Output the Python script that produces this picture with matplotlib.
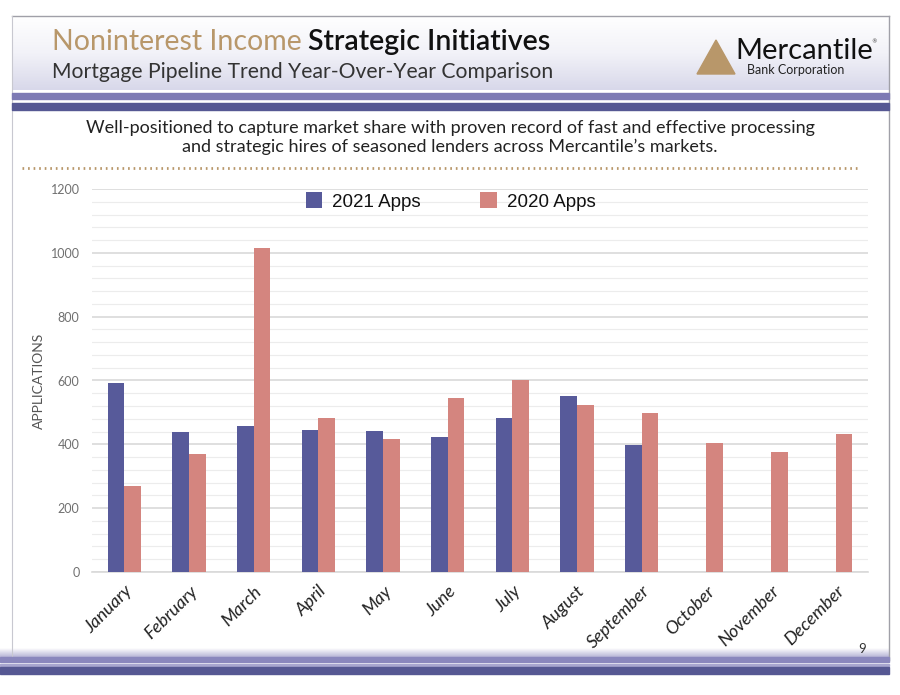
import numpy as np
import matplotlib
matplotlib.use("Agg")
import matplotlib.pyplot as plt
from matplotlib.patches import Rectangle, Polygon
from matplotlib.colors import LinearSegmentedColormap

months = ["January", "February", "March", "April", "May", "June", "July",
          "August", "September", "October", "November", "December"]
apps_2021 = [592, 440, 458, 446, 441, 424, 483, 550, 397, None, None, None]
apps_2020 = [270, 370, 1015, 483, 418, 546, 603, 524, 498, 405, 376, 433]
series_names = ["2021 Apps", "2020 Apps"]
yticks = [0, 200, 400, 600, 800, 1000, 1200]

W, H = 900, 695
fig = plt.figure(figsize=(9, 6.95), dpi=100)
fig.patch.set_facecolor("white")

def fx(px):
    return px / W

def fy(py):
    return 1 - py / H

bg = fig.add_axes([0, 0, 1, 1], zorder=-5)
bg.set_xlim(0, W)
bg.set_ylim(H, 0)
bg.axis("off")

grad = np.linspace(0, 1, 100).reshape(-1, 1)
cmap = LinearSegmentedColormap.from_list("hdr", ["#ffffff", "#f2f2f8", "#d8d8ea"])
bg.imshow(grad, extent=[12, 889, 90, 16], cmap=cmap, aspect="auto", zorder=0)
bg.plot([12, 889], [16, 16], color="#a0a0a8", lw=1)
bg.plot([12, 12], [16, 660], color="#c8c8d0", lw=0.8)
bg.plot([889, 889], [16, 660], color="#a0a0a8", lw=1)
bg.add_patch(Rectangle((12, 93), 877, 6, color="#7d7ab4", zorder=2))
bg.add_patch(Rectangle((12, 103), 877, 7, color="#565893", zorder=2))
cmap2 = LinearSegmentedColormap.from_list("ftr", ["#ffffff", "#b7b5d6"])
bg.imshow(grad, extent=[0, 889, 657, 648], cmap=cmap2, aspect="auto", zorder=1)
bg.add_patch(Rectangle((0, 657), 889, 5, color="#8a87bd", zorder=2))
bg.add_patch(Rectangle((0, 664), 889, 2, color="#a8a6cf", zorder=2))
bg.add_patch(Rectangle((0, 667), 889, 7, color="#565893", zorder=2))
bg.plot([22, 858], [168, 168], color="#b8976a", lw=2, ls=(0, (0.6, 1.4)), zorder=2)
bg.add_patch(Polygon([[697, 74], [716, 40], [735, 74]], closed=True, color="#b8976a", zorder=3))

t1 = fig.text(fx(52), fy(42), "Noninterest Income", color="#b8976a", fontsize=20.5,
              family="Lato", va="center", ha="left")
fig.canvas.draw()
bb = t1.get_window_extent()
fig.text((bb.x1 + 6) / W, fy(42), "Strategic Initiatives", color="#111111", fontsize=20.5,
         family="Lato", weight="semibold", va="center", ha="left")
fig.text(fx(52), fy(72), "Mortgage Pipeline Trend Year-Over-Year Comparison",
         color="#333333", fontsize=15.2, family="Lato", va="center", ha="left")
fig.text(fx(735), fy(51), "Mercantile", color="#111111", fontsize=21,
         family="Lato", va="center", ha="left")
fig.text(fx(871), fy(42), "®", color="#333333", fontsize=4, va="center", ha="left")
fig.text(fx(747), fy(70), "Bank Corporation", color="#222222", fontsize=9,
         family="Lato", va="center", ha="left")
fig.text(0.5, fy(128), "Well-positioned to capture market share with proven record of fast and effective processing",
         color="#222222", fontsize=13, family="Lato", va="center", ha="center")
fig.text(0.5, fy(147), "and strategic hires of seasoned lenders across Mercantile\u2019s markets.",
         color="#222222", fontsize=13, family="Lato", va="center", ha="center")
fig.text(fx(862), fy(649), "9", color="#333333", fontsize=9.5, family="Lato",
         va="center", ha="center")

ax = fig.add_axes([fx(92), fy(572), fx(868) - fx(92), fy(189) - fy(572)])
x = np.arange(len(months))
bw = 0.26
v21 = [np.nan if v is None else v for v in apps_2021]
ax.bar(x - bw / 2, v21, bw, color="#575a9a", label=series_names[0], zorder=3)
ax.bar(x + bw / 2, apps_2020, bw, color="#d4857f", label=series_names[1], zorder=3)
ax.set_xlim(-0.5, len(months) - 0.5)
ax.set_ylim(0, 1200)
ax.set_yticks(yticks)
ax.set_yticks(np.arange(0, 1201, 40), minor=True)
ax.grid(True, which="major", axis="y", color="#d9d9d9", lw=1.2, zorder=0)
ax.grid(True, which="minor", axis="y", color="#ececec", lw=0.8, zorder=0)
ax.tick_params(axis="y", which="both", length=0, labelsize=9, labelcolor="#707070", pad=9)
for lab in ax.get_yticklabels():
    lab.set_family("Lato")
ax.set_xticks(x)
ax.set_xticklabels(months, rotation=45, ha="right", rotation_mode="anchor",
                   fontsize=13, style="italic", family="Lato", color="#222222")
ax.tick_params(axis="x", length=0, pad=8)
for s in ["top", "right", "left"]:
    ax.spines[s].set_visible(False)
ax.spines["bottom"].set_color("#d9d9d9")
ax.spines["bottom"].set_linewidth(1.2)
ax.set_ylabel("APPLICATIONS", fontsize=10, color="#555555", family="Lato", labelpad=4)
leg = ax.legend(loc="upper center", bbox_to_anchor=(0.462, 1.035), ncol=2, frameon=False,
                handlelength=0.9, handleheight=0.9, columnspacing=3.2, handletextpad=0.5,
                prop={"family": "Liberation Sans", "size": 13.5})
for t in leg.get_texts():
    t.set_color("#111111")

fig.savefig("out.png", dpi=100)
